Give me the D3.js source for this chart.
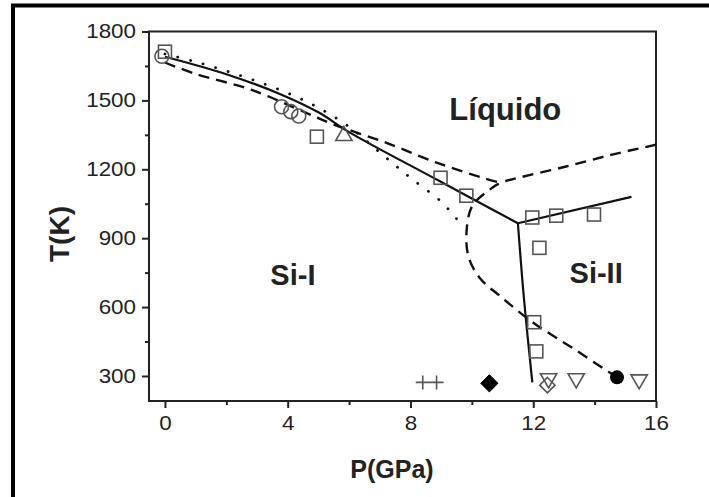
<!DOCTYPE html>
<html><head><meta charset="utf-8">
<script src="https://cdn.jsdelivr.net/npm/d3@7/dist/d3.min.js"></script>
<style>
html,body{margin:0;padding:0;background:#fff;}
svg{display:block;}
text{font-family:"Liberation Sans",Arial,sans-serif;}
</style></head>
<body>
<svg id="c" width="709" height="497"></svg>
<script>
// ---- data (P in GPa, T in K) ----
const xTicks = [0, 4, 8, 12, 16];
const xMinor = [2, 6, 10, 14];
const yTicks = [300, 600, 900, 1200, 1500, 1800];
const yMinor = [450, 750, 1050, 1350, 1650];

// solid boundaries
const solidMeltSiI = [[0,1690],[2,1614],[3.8,1525],[5,1448],[6,1362],[8.9,1152],[11.5,965]];
const solidSiISiII = [[11.5,965],[11.7,633],[11.97,272]];
const solidMeltSiII = [[11.5,965],[15.2,1080]];
// dashed boundaries
const dashedMeltSiI = [[0,1665],[1,1615],[2.8,1547],[4.6,1446],[5.5,1395],[7.2,1316],[8.85,1229],[10.35,1163],[10.95,1140]];
const dashedUpper = [[16,1307],[14.57,1264],[13.07,1212],[11.55,1164],[10.95,1142],[10.55,1108],[10.0,1037],[9.82,907],[9.92,807],[10.3,720],[10.9,650],[12.0,532],[13.3,420],[14.6,305]];
// dotted boundary
const dottedMelt = [[0,1702],[1,1668],[2,1628],[3,1583],[4,1532],[5,1468],[6,1385],[7.1,1262],[8,1163],[9,1059],[9.5,985]];

// experimental points
const openSquares = [[0,1712],[4.95,1342],[8.98,1163],[9.82,1085],[11.97,990],[12.75,998],[13.98,1003],[12.2,858],[12.03,534],[12.1,407]];
const openCircles = [[-0.1,1692],[3.8,1472],[4.1,1451],[4.36,1432]];
const openTrianglesUp = [[5.83,1350]];
const openTrianglesDown = [[12.5,285],[13.4,285],[15.45,280]];
const openDiamonds = [[12.46,260]];
const filledDiamonds = [[10.57,268]];
const filledCircles = [[14.73,294]];
const crosses = [[8.4,272],[8.85,272]];

const phaseLabels = [["Líquido",11.09,1416,31],["Si-I",4.17,694,29],["Si-II",14.05,707,29]];

// ---- drawing ----
const svg = d3.select("#c");
svg.append("rect").attr("x",0).attr("y",0).attr("width",709).attr("height",497).attr("fill","#fff");
svg.append("rect").attr("x",13).attr("y",5.5).attr("width",760).attr("height",560)
  .attr("fill","none").attr("stroke","#000").attr("stroke-width",4);

const L=149, R=656, T=31.5, B=401;
const x = d3.scaleLinear().domain([-0.52,16]).range([L,R]);
const y = d3.scaleLinear().domain([191,1800]).range([B,T]);

const axisColor = "#222";
// frame
svg.append("rect").attr("x",L).attr("y",T).attr("width",R-L).attr("height",B-T)
  .attr("fill","none").attr("stroke",axisColor).attr("stroke-width",2);

function stretch(sel){
  sel.each(function(){
    const t = d3.select(this);
    const ax = +t.attr("x") || 0;
    t.attr("transform",`translate(${ax},0) scale(1.12,1) translate(${-ax},0)`);
  });
}

// x axis
const xa = svg.append("g").attr("transform",`translate(0,${B})`)
  .call(d3.axisBottom(x).tickValues(xTicks).tickSize(7).tickPadding(8).tickFormat(d3.format("d")));
xa.select(".domain").remove();
xa.selectAll("line").attr("stroke",axisColor).attr("stroke-width",2);
xa.selectAll("text").attr("font-size",20).attr("fill","#222").attr("font-family","Liberation Sans, Arial, sans-serif").call(stretch);
const xm = svg.append("g").attr("transform",`translate(0,${B})`)
  .call(d3.axisBottom(x).tickValues(xMinor).tickSize(4).tickFormat(""));
xm.select(".domain").remove();
xm.selectAll("line").attr("stroke",axisColor).attr("stroke-width",2);

// y axis
const ya = svg.append("g").attr("transform",`translate(${L},0)`)
  .call(d3.axisLeft(y).tickValues(yTicks).tickSize(7).tickPadding(6).tickFormat(d3.format("d")));
ya.select(".domain").remove();
ya.selectAll("line").attr("stroke",axisColor).attr("stroke-width",2);
ya.selectAll("text").attr("font-size",20).attr("fill","#222").attr("font-family","Liberation Sans, Arial, sans-serif").call(stretch);
const ym = svg.append("g").attr("transform",`translate(${L},0)`)
  .call(d3.axisLeft(y).tickValues(yMinor).tickSize(4).tickFormat(""));
ym.select(".domain").remove();
ym.selectAll("line").attr("stroke",axisColor).attr("stroke-width",2);

// axis titles
svg.append("text").attr("x",392).attr("y",478).attr("text-anchor","middle")
  .attr("font-size",25).attr("font-weight","bold").attr("fill","#222").text("P(GPa)");
svg.append("text").attr("transform","translate(69,234) rotate(-90)").attr("text-anchor","middle")
  .attr("font-size",28).attr("font-weight","bold").attr("fill","#222").text("T(K)");

// curves
svg.append("clipPath").attr("id","pc").append("rect")
  .attr("x",L).attr("y",T).attr("width",R-L).attr("height",B-T);
const g = svg.append("g").attr("clip-path","url(#pc)");
const line = d3.line().x(d=>x(d[0])).y(d=>y(d[1])).curve(d3.curveCatmullRom.alpha(0.5));
const lineLin = d3.line().x(d=>x(d[0])).y(d=>y(d[1]));

g.append("path").attr("d",line(solidMeltSiI)).attr("fill","none").attr("stroke","#111").attr("stroke-width",2.2);
g.append("path").attr("d",line(solidSiISiII)).attr("fill","none").attr("stroke","#111").attr("stroke-width",2.2);
g.append("path").attr("d",lineLin(solidMeltSiII)).attr("fill","none").attr("stroke","#111").attr("stroke-width",2.2);
g.append("path").attr("d",line(dashedMeltSiI)).attr("fill","none").attr("stroke","#111").attr("stroke-width",2.4).attr("stroke-dasharray","11,7");
g.append("path").attr("d",line(dashedUpper)).attr("fill","none").attr("stroke","#111").attr("stroke-width",2.4).attr("stroke-dasharray","11,7");
g.append("path").attr("d",line(dottedMelt)).attr("fill","none").attr("stroke","#111").attr("stroke-width",2.8)
  .attr("stroke-dasharray","0.1,13").attr("stroke-linecap","round");

// markers
const mStroke = "#555", mw = 1.6;
const sq = 13;
g.selectAll(".sq").data(openSquares).join("rect")
  .attr("x",d=>x(d[0])-sq/2).attr("y",d=>y(d[1])-sq/2).attr("width",sq).attr("height",sq)
  .attr("fill","none").attr("stroke",mStroke).attr("stroke-width",mw);
g.selectAll(".ci").data(openCircles).join("circle")
  .attr("cx",d=>x(d[0])).attr("cy",d=>y(d[1])).attr("r",7)
  .attr("fill","none").attr("stroke",mStroke).attr("stroke-width",mw);
const tri = d3.symbol().type(d3.symbolTriangle).size(115);
g.selectAll(".tu").data(openTrianglesUp).join("path")
  .attr("d",tri).attr("transform",d=>`translate(${x(d[0])},${y(d[1])+1})`)
  .attr("fill","none").attr("stroke",mStroke).attr("stroke-width",mw);
g.selectAll(".td").data(openTrianglesDown).join("path")
  .attr("d",tri).attr("transform",d=>`translate(${x(d[0])},${y(d[1])-1}) rotate(180)`)
  .attr("fill","none").attr("stroke",mStroke).attr("stroke-width",mw);
const dia = d3.symbol().type(d3.symbolDiamond2).size(150);
const diaF = d3.symbol().type(d3.symbolDiamond2).size(190);
g.selectAll(".od").data(openDiamonds).join("path")
  .attr("d",dia).attr("transform",d=>`translate(${x(d[0])},${y(d[1])})`)
  .attr("fill","none").attr("stroke",mStroke).attr("stroke-width",mw);
g.selectAll(".fd").data(filledDiamonds).join("path")
  .attr("d",diaF).attr("transform",d=>`translate(${x(d[0])},${y(d[1])})`)
  .attr("fill","#000").attr("stroke","#000").attr("stroke-width",1);
g.selectAll(".fc").data(filledCircles).join("circle")
  .attr("cx",d=>x(d[0])).attr("cy",d=>y(d[1])).attr("r",7).attr("fill","#000");
g.selectAll(".cr").data(crosses).join("path")
  .attr("d",d=>{const cx=x(d[0]),cy=y(d[1]);return `M${cx-7},${cy}H${cx+7}M${cx},${cy-7}V${cy+7}`;})
  .attr("fill","none").attr("stroke",mStroke).attr("stroke-width",mw);

// phase labels
svg.selectAll(".pl").data(phaseLabels).join("text")
  .attr("x",d=>x(d[1])).attr("y",d=>y(d[2])).attr("text-anchor","middle")
  .attr("font-size",d=>d[3]).attr("font-weight","bold").attr("fill","#222").text(d=>d[0]);
</script>
</body></html>
